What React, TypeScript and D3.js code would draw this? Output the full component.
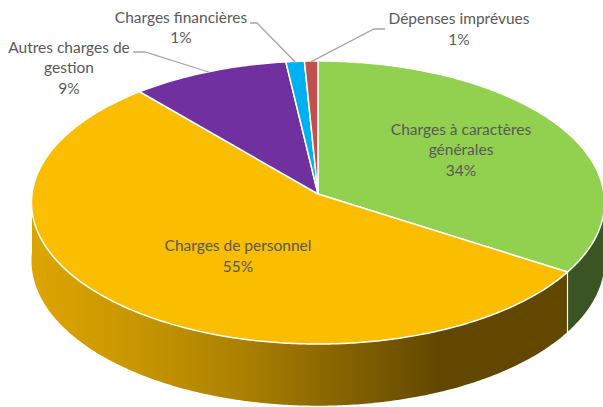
import React from 'react';
import * as d3 from 'd3';

// ---- data ----
const categories = [
  'Charges à caractères générales',
  'Charges de personnel',
  'Autres charges de gestion',
  'Charges financières',
  'Dépenses imprévues',
];
const values = [34.0, 54.7, 9.4, 1.1, 0.8];
const percentLabels = ['34%', '55%', '9%', '1%', '1%'];
const labelLines = [
  ['Charges à caractères', 'générales'],
  ['Charges de personnel'],
  ['Autres charges de', 'gestion'],
  ['Charges financières'],
  ['Dépenses imprévues'],
];

// ---- styles ----
const topColors = ['#92D050', '#FABD00', '#7030A0', '#00B0F0', '#C0504D'];
const sideColors = ['#3A5424', 'url(#yellowSide)', '#3E1A5A', '#006A90', '#73302E'];

// ---- layout ----
const W = 603, H = 407;
const CX = 318, CY = 194, RX = 286, RY = 141, K = 0.06, DEPTH = 58;
const LINE_H = 20.7;
// label anchor: [centerX, firstBaselineY]
const labelAnchors: [number, number][] = [
  [461, 134.5],
  [238, 251],
  [69, 52.5],
  [181, 22.5],
  [459, 24],
];
const leaderStarts: ([number, number][] | null)[] = [
  null,
  null,
  [[133, 52], [145, 52]],
  [[250, 23], [257, 23]],
  [[385, 29], [374, 29]],
];

function proj(theta: number, r = 1, z = 0): [number, number] {
  const u = r * Math.sin(theta);
  const v = -r * Math.cos(theta);
  const s = 1 / (1 - K * v);
  return [CX + RX * u * s, CY + (RY * v + z) * s];
}

function arcPts(a: number, b: number, z = 0): [number, number][] {
  const n = Math.max(2, Math.ceil(Math.abs(b - a) / 0.01));
  const pts: [number, number][] = [];
  for (let i = 0; i <= n; i++) pts.push(proj(a + ((b - a) * i) / n, 1, z));
  return pts;
}

const line = d3.line<[number, number]>();

export default function App() {
  const pie = d3.pie<number>().sort(null).value((d) => d).startAngle(0).endAngle(2 * Math.PI);
  const arcs = pie(values);

  const sides: JSX.Element[] = [];
  const seams: JSX.Element[] = [];
  arcs.forEach((a, i) => {
    const s0 = Math.max(a.startAngle, Math.PI / 2);
    const s1 = Math.min(a.endAngle, (3 * Math.PI) / 2);
    if (s1 > s0) {
      const pts = [...arcPts(s0, s1, 0), ...arcPts(s1, s0, DEPTH)];
      sides.push(<path key={'s' + i} d={line(pts)! + 'Z'} fill={sideColors[i]} />);
    }
    if (a.startAngle > Math.PI / 2 && a.startAngle < (3 * Math.PI) / 2) {
      const p0 = proj(a.startAngle, 1, 0);
      const p1 = proj(a.startAngle, 1, DEPTH);
      seams.push(
        <line key={'m' + i} x1={p0[0]} y1={p0[1]} x2={p1[0]} y2={p1[1]} stroke="#F2F2F2" strokeWidth={1.2} />
      );
    }
  });

  const tops = arcs.map((a, i) => {
    const pts = [proj(0, 0), ...arcPts(a.startAngle, a.endAngle, 0)];
    return (
      <path
        key={'t' + i}
        d={line(pts)! + 'Z'}
        fill={topColors[i]}
        stroke="#FFFFFF"
        strokeWidth={1.5}
        strokeLinejoin="round"
      />
    );
  });

  const leaders = arcs.map((a, i) => {
    const st = leaderStarts[i];
    if (!st) return null;
    const mid = (a.startAngle + a.endAngle) / 2;
    const end = proj(mid, 0.995, 0);
    return (
      <path key={'l' + i} d={line([...st, end])!} fill="none" stroke="#A6A6A6" strokeWidth={1.3} />
    );
  });

  const labels = categories.map((c, i) => {
    const [x, y] = labelAnchors[i];
    const lines = [...labelLines[i], percentLabels[i]];
    return (
      <text
        key={'x' + i}
        x={x}
        y={y}
        textAnchor="middle"
        fontFamily="Lato, 'Open Sans', sans-serif"
        fontSize={15.5}
        fill="#595959"
      >
        {lines.map((l, j) => (
          <tspan key={j} x={x} y={y + j * LINE_H}>
            {l}
          </tspan>
        ))}
      </text>
    );
  });

  return (
    <svg
      width={W}
      height={H}
      viewBox={`0 0 ${W} ${H}`}
      style={{ position: 'absolute', left: 0, top: 0, background: '#FFFFFF' }}
    >
      <defs>
        <linearGradient id="yellowSide" gradientUnits="userSpaceOnUse" x1={40} y1={0} x2={440} y2={0}>
          <stop offset="0" stopColor="#DCA400" />
          <stop offset="0.25" stopColor="#C69500" />
          <stop offset="0.5" stopColor="#AC8100" />
          <stop offset="0.75" stopColor="#866400" />
          <stop offset="1" stopColor="#624700" />
        </linearGradient>
      </defs>
      <rect width={W} height={H} fill="#FFFFFF" />
      {sides}
      {seams}
      {tops}
      {leaders}
      {labels}
    </svg>
  );
}
